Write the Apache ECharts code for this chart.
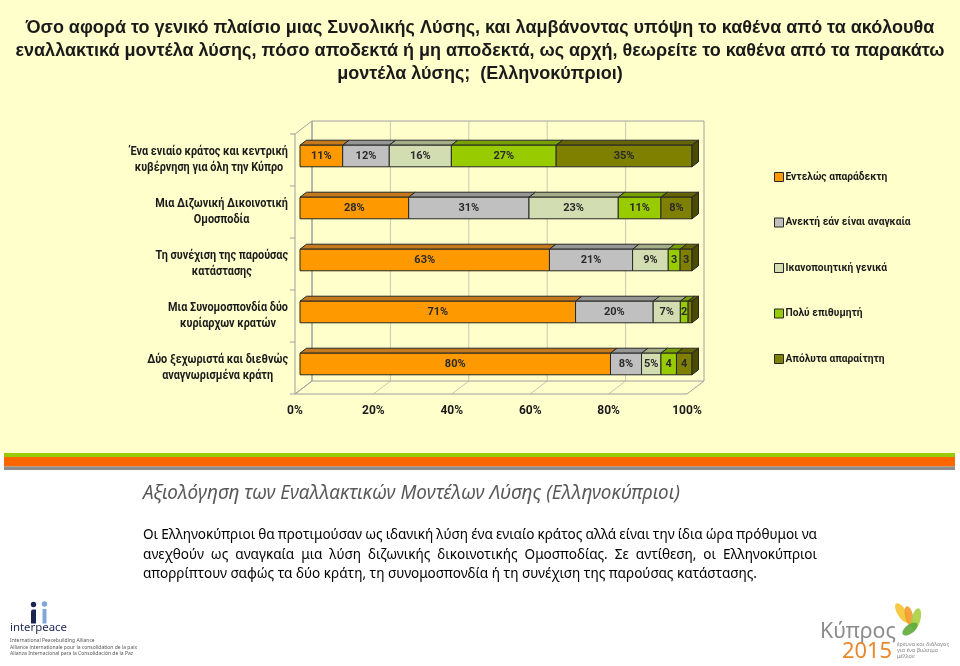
<!DOCTYPE html>
<html><head><meta charset="utf-8">
<script src="https://cdn.jsdelivr.net/npm/echarts@6/dist/echarts.min.js"></script>
<style>html,body{margin:0;padding:0;background:#fff}#c{width:960px;height:666px}</style>
</head><body><div id="c"></div>
<script>
// ---------- data ----------
const categories = [
  'Ένα ενιαίο κράτος και κεντρική\nκυβέρνηση για όλη την Κύπρο',
  'Μια Διζωνική Δικοινοτική\nΟμοσποδία',
  'Τη συνέχιση της παρούσας\nκατάστασης',
  'Μια Συνομοσπονδία δύο\nκυρίαρχων κρατών',
  'Δύο ξεχωριστά και διεθνώς\nαναγνωρισμένα κράτη'
];
const seriesNames = ['Εντελώς απαράδεκτη', 'Ανεκτή εάν είναι αναγκαία', 'Ικανοποιητική γενικά', 'Πολύ επιθυμητή', 'Απόλυτα απαραίτητη'];
const unacceptable = [11, 28, 63, 71, 80];
const tolerable    = [12, 31, 21, 20, 8];
const satisfactory = [16, 23, 9, 7, 5];
const desirable    = [27, 11, 3, 2, 4];
const essential    = [35, 8, 3, 1, 4];
const xTicks = [0, 20, 40, 60, 80, 100];

const titleLines = [
  'Όσο αφορά το γενικό πλαίσιο μιας Συνολικής Λύσης, και λαμβάνοντας υπόψη το καθένα από τα ακόλουθα',
  'εναλλακτικά μοντέλα λύσης, πόσο αποδεκτά ή μη αποδεκτά, ως αρχή, θεωρείτε το καθένα από τα παρακάτω',
  'μοντέλα λύσης;  (Ελληνοκύπριοι)'
];
const headingText = 'Αξιολόγηση των Εναλλακτικών Μοντέλων Λύσης (Ελληνοκύπριοι)';
const paragraphLines = [
  'Οι Ελληνοκύπριοι θα προτιμούσαν ως ιδανική λύση ένα ενιαίο κράτος αλλά είναι την ίδια ώρα πρόθυμοι να',
  'ανεχθούν ως αναγκαία μια λύση διζωνικής δικοινοτικής Ομοσποδίας. Σε αντίθεση, οι Ελληνοκύπριοι',
  'απορρίπτουν σαφώς τα δύο κράτη, τη συνομοσπονδία ή τη συνέχιση της παρούσας κατάστασης.'
];

// ---------- styles ----------
const allSeries = [unacceptable, tolerable, satisfactory, desirable, essential];
const COLORS = [
  {front: '#FF9900', top: '#C47A1C', side: '#A86300'},
  {front: '#C0C0C0', top: '#969696', side: '#7F7F7F'},
  {front: '#D2DEB2', top: '#A3AD88', side: '#8A9372'},
  {front: '#99CC00', top: '#78A000', side: '#5F8000'},
  {front: '#808000', top: '#646400', side: '#4A4A00'}
];
const CF = 'Roboto, "Noto Sans", sans-serif';
const AF = '"Liberation Sans", Arial, "Noto Sans", sans-serif';
const BF = '"Noto Sans", "Open Sans", sans-serif';

const cv = document.createElement('canvas').getContext('2d');
function tw(text, font) { cv.font = font; return cv.measureText(text).width; }
function fit(text, style, family, target, base) {
  const w = tw(text, style + ' ' + base + 'px ' + family);
  return base * target / w;
}

const legSize = Math.max(9, Math.min(12, fit('Εντελώς απαράδεκτη', 'bold', CF, 102, 11)));
const yFont = 'bold 12px ' + CF;
const yScale = Math.min(1, 158 / tw('Ένα ενιαίο κράτος και κεντρική', yFont));

// ---------- stacked (100%) data ----------
const totals = categories.map((c, i) => allSeries.reduce((a, s) => a + s[i], 0));
const cum = categories.map(() => 0);
const stacked = allSeries.map(s => s.map((v, i) => {
  const st = cum[i] / totals[i] * 100;
  cum[i] += v;
  const en = cum[i] / totals[i] * 100;
  return [i, st, en, v];
}));

const DX = 6.5, DY = 5;
function renderBar(k) {
  return function (params, api) {
    const row = api.value(0), s = api.value(1), e = api.value(2), v = api.value(3);
    const a = api.coord([s, row]), b = api.coord([e, row]);
    const bh = api.size([0, 1])[1] * 0.415;
    const x0 = a[0], x1 = b[0], y0 = a[1] - bh / 2;
    const c = COLORS[k];
    const ch = [
      {type: 'polygon', shape: {points: [[x0, y0], [x1, y0], [x1 + DX, y0 - DY], [x0 + DX, y0 - DY]]},
        style: {fill: c.top, stroke: '#262626', lineWidth: 1}},
      {type: 'rect', shape: {x: x0, y: y0, width: x1 - x0, height: bh},
        style: {fill: c.front, stroke: '#262626', lineWidth: 1}}
    ];
    if (e > 99.999) {
      ch.push({type: 'polygon', shape: {points: [[x1, y0], [x1 + DX, y0 - DY], [x1 + DX, y0 + bh - DY], [x1, y0 + bh]]},
        style: {fill: c.side, stroke: '#262626', lineWidth: 1}});
    }
    if (v >= 2) {
      ch.push({type: 'text', style: {text: v >= 5 ? v + '%' : String(v), x: (x0 + x1) / 2, y: y0 + bh / 2 + 0.5,
        align: 'center', verticalAlign: 'middle', textAlign: 'center', textVerticalAlign: 'middle',
        font: 'bold 11px ' + CF, fill: '#2a2a2a'}});
    }
    return {type: 'group', children: ch};
  };
}

// 3D walls, floor and category labels (positioned through the axes)
function renderFrame(params, api) {
  const cs = params.coordSys;
  const L = cs.x, T = cs.y, W = cs.width, H = cs.height, B = T + H;
  const fx = -5, fy = 4, bx = 12, by = -9;
  const edge = '#A0A0A0', gl = '#C8C8B4';
  const ch = [];
  xTicks.forEach(t => {
    const x = api.coord([t, 0])[0];
    if (t !== xTicks[0] && t !== xTicks[xTicks.length - 1]) {
      ch.push({type: 'line', shape: {x1: x + bx, y1: T + by, x2: x + bx, y2: B + by}, style: {stroke: gl, lineWidth: 1}});
    }
    ch.push({type: 'line', shape: {x1: x + fx, y1: B + fy, x2: x + bx, y2: B + by}, style: {stroke: t === 0 || t === 100 ? edge : gl, lineWidth: 1}});
  });
  ch.push({type: 'rect', shape: {x: L + bx, y: T + by, width: W, height: H}, style: {fill: 'none', stroke: edge, lineWidth: 1}});
  ch.push({type: 'polygon', shape: {points: [[L + fx, T + fy], [L + bx, T + by], [L + bx, B + by], [L + fx, B + fy]]}, style: {fill: 'none', stroke: edge, lineWidth: 1}});
  ch.push({type: 'line', shape: {x1: L + fx, y1: B + fy, x2: L + W + fx, y2: B + fy}, style: {stroke: edge, lineWidth: 1}});
  for (let k = 0; k <= categories.length; k++) {
    const y = T + fy + k * H / categories.length;
    ch.push({type: 'line', shape: {x1: L + fx - 5, y1: y, x2: L + fx, y2: y}, style: {stroke: edge, lineWidth: 1}});
  }
  // category labels: block right edge 12px left of the bars, lines centred in the block
  categories.forEach((c, i) => {
    const yc = api.coord([0, i])[1] + 4;
    const ls = c.split('\n');
    const bw = Math.max.apply(null, ls.map(l => tw(l, yFont))) * yScale;
    const cx = L - 12 - bw / 2;
    ls.forEach((l, j) => {
      ch.push({type: 'text', x: cx, y: yc + (j - (ls.length - 1) / 2) * 16, scaleX: yScale,
        style: {text: l, x: 0, y: 0,
          align: 'center', verticalAlign: 'middle', textAlign: 'center', textVerticalAlign: 'middle',
          font: yFont, fill: '#1a1a1a'}});
    });
  });
  return {type: 'group', children: ch};
}

// ---------- text graphics ----------
function txt(text, x, y, font, fill, align, sx) {
  return {type: 'text', x: x, y: y, z: 10, scaleX: sx || 1,
    style: {text: text, font: font, fill: fill, align: align || 'left', verticalAlign: 'middle',
      textAlign: align || 'left', textVerticalAlign: 'middle'}};
}
function justified(line, y, x0, width, font, sx) {
  const words = line.split(' ');
  const ws = words.map(w => tw(w, font) * sx);
  const gap = (width - ws.reduce((a, b) => a + b, 0)) / (words.length - 1);
  let x = x0;
  return words.map((w, i) => { const el = txt(w, x, y, font, '#000', 'left', sx); x += ws[i] + gap; return el; });
}

const graphics = [
  {type: 'rect', z: -10, shape: {x: 0, y: 0, width: 960, height: 453}, style: {fill: '#FFFFCC'}},
  {type: 'rect', z: -9, shape: {x: 4, y: 453, width: 951, height: 4}, style: {fill: '#99CC00'}},
  {type: 'rect', z: -9, shape: {x: 4, y: 457, width: 951, height: 9.5}, style: {fill: '#FF6600'}},
  {type: 'rect', z: -9, shape: {x: 4, y: 466.5, width: 951, height: 3.5}, style: {fill: '#8C8C8C'}}
];
const tFont = 'bold 18px ' + AF;
const tScale = Math.min(1, 910 / tw(titleLines[0], tFont));
titleLines.forEach((l, i) => graphics.push(txt(l, 480, 28 + i * 23, tFont, '#1a1a1a', 'center', tScale)));
const hFont = 'italic 20px ' + BF;
const hScale = Math.min(1.1, 537 / tw(headingText, hFont));
graphics.push(txt(headingText, 143, 493, hFont, '#595959', 'left', hScale));
const pFont = '15px ' + BF;
const pScale = Math.min(1.1, 614 / tw(paragraphLines[2], pFont));
justified(paragraphLines[0], 535, 143, 674, pFont, pScale).forEach(e => graphics.push(e));
justified(paragraphLines[1], 555, 143, 674, pFont, pScale).forEach(e => graphics.push(e));
graphics.push(txt(paragraphLines[2], 143, 574, pFont, '#000', 'left', pScale));

// interpeace logo
graphics.push({type: 'circle', z: 10, shape: {cx: 33.5, cy: 604.5, r: 2.7}, style: {fill: '#1B2552'}});
graphics.push({type: 'rect', z: 10, shape: {x: 31, y: 609.5, width: 5, height: 14, r: [2, 0, 0, 0]}, style: {fill: '#1B2552'}});
graphics.push({type: 'circle', z: 10, shape: {cx: 44.5, cy: 604, r: 2.7}, style: {fill: '#7FA8D8'}});
graphics.push({type: 'rect', z: 10, shape: {x: 42.5, y: 609, width: 4, height: 14.5}, style: {fill: '#7FA8D8'}});
const ipSize = fit('interpeace', '', '"Noto Sans", sans-serif', 57, 15);
graphics.push(txt('interpeace', 10, 628, ipSize.toFixed(2) + 'px "Noto Sans", sans-serif', '#1B2552'));
['International Peacebuilding Alliance', 'Alliance internationale pour la consolidation de la paix', 'Alianza Internacional para la Consolidación de la Paz']
  .forEach((l, i) => graphics.push(txt(l, 10, 641 + i * 6.5, '5px "Noto Sans", sans-serif', '#555')));

// Kypros 2015 logo
const leaves = [
  {x: 902, y: 613, rx: 4.5, ry: 11, rot: 0.55, c: '#F4C430'},
  {x: 909, y: 616, rx: 4, ry: 10, rot: 0.2, c: '#F39A2B'},
  {x: 916, y: 619, rx: 4.5, ry: 11, rot: -0.25, c: '#A8CF45'},
  {x: 910, y: 629, rx: 4.5, ry: 9, rot: -0.9, c: '#5DAA3C'}
];
leaves.forEach(l => graphics.push({type: 'ellipse', z: 10, x: l.x, y: l.y, rotation: l.rot,
  shape: {cx: 0, cy: 0, rx: l.rx, ry: l.ry}, style: {fill: l.c, opacity: 0.9}}));
const kSize = fit('Κύπρος', '', '"Noto Sans", sans-serif', 76, 24);
graphics.push(txt('Κύπρος', 820, 632, kSize.toFixed(2) + 'px "Noto Sans", sans-serif', '#8C8C8C'));
const ySize = fit('2015', '', '"Noto Sans", sans-serif', 50, 24);
graphics.push(txt('2015', 842, 652, ySize.toFixed(2) + 'px "Noto Sans", sans-serif', '#E8872B'));
['έρευνα και διάλογος', 'για ένα βιώσιμο', 'μέλλον'].forEach((l, i) =>
  graphics.push(txt(l, 897, 644 + i * 6, '5.5px "Noto Sans", sans-serif', '#888')));

// ---------- chart ----------
const chart = echarts.init(document.getElementById('c'), null, {renderer: 'canvas'});
const series = [{
  type: 'custom', name: '__frame', silent: true, z: 1, renderItem: renderFrame,
  data: [[0, 0]], encode: {x: 0, y: 1}
}];
stacked.forEach((d, k) => series.push({
  type: 'custom', name: seriesNames[k], z: 2 + k * 0.01, renderItem: renderBar(k),
  itemStyle: {color: COLORS[k].front}, data: d, encode: {y: 0, x: [1, 2]}
}));

chart.setOption({
  backgroundColor: '#ffffff',
  animation: false,
  graphic: {elements: graphics},
  grid: {left: 300, top: 130, width: 392, height: 260, containLabel: false},
  xAxis: {
    type: 'value', min: xTicks[0], max: xTicks[xTicks.length - 1], interval: xTicks[1] - xTicks[0],
    axisLine: {show: false}, axisTick: {show: false}, splitLine: {show: false},
    axisLabel: {formatter: '{value}%', margin: 15, padding: [0, 10, 0, 0], fontWeight: 'bold', fontSize: 12,
      color: '#1a1a1a', fontFamily: CF}
  },
  yAxis: {
    type: 'category', data: categories, inverse: true,
    axisLine: {show: false}, axisTick: {show: false}, splitLine: {show: false},
    axisLabel: {show: false}
  },
  legend: {
    data: seriesNames, orient: 'vertical', left: 769, top: 165, itemWidth: 9, itemHeight: 9, itemGap: 31.5,
    icon: 'rect', selectedMode: false,
    itemStyle: {borderColor: '#262626', borderWidth: 1},
    textStyle: {fontSize: legSize, fontWeight: 'bold', color: '#1a1a1a', fontFamily: CF, lineHeight: 14, padding: [0, 0, 0, -3]}
  },
  series: series
});
</script>
</body></html>
